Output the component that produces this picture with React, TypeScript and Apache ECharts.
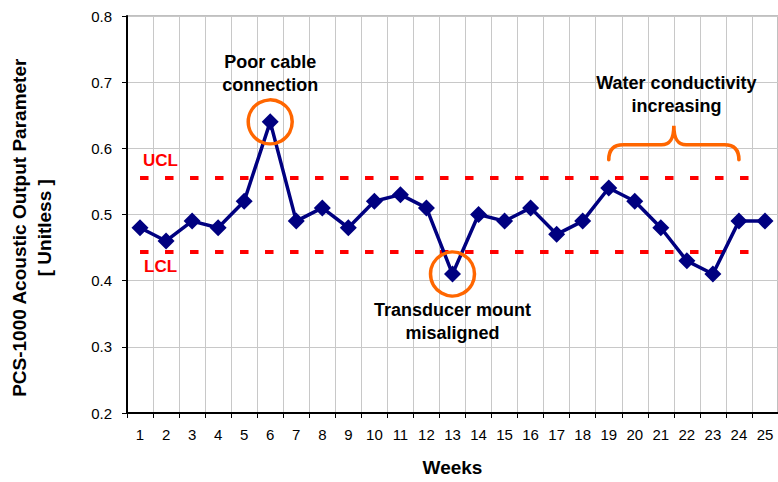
import React, { useEffect, useRef } from "react";
import * as echarts from "echarts";

const weeks = ["1","2","3","4","5","6","7","8","9","10","11","12","13","14","15","16","17","18","19","20","21","22","23","24","25"];
const values = [0.48,0.46,0.49,0.48,0.52,0.64,0.49,0.51,0.48,0.52,0.53,0.51,0.41,0.50,0.49,0.51,0.47,0.49,0.54,0.52,0.48,0.43,0.41,0.49,0.49];
const UCL = 0.555;
const LCL = 0.443;
const yMin = 0.2;
const yMax = 0.8;
const yStep = 0.1;

// annotations: [label text, category index (0-based, fractional ok), value]
const noteTexts = ["Poor cable\nconnection", "Transducer mount\nmisaligned", "Water conductivity\nincreasing"];
const noteX = [5, 12, 20.6];
const noteY = [0.713, 0.339, 0.6815];
const circledWeeks = [6, 13];
const braceFromWeek = 19;
const braceToWeek = 24;
const bracePeakValue = 0.634;

const FONT = 'Arial, "Liberation Sans", sans-serif';

const BRACE_D =
  "M -63 34 Q -63 19 -49 19 L -12 19 C -3 19 0 12 0 0 C 0 12 3 19 12 19 L 49 19 Q 63 19 63 34";

let registered = false;

export default function App() {
  const ref = useRef<HTMLDivElement>(null);
  useEffect(() => {
    if (!registered) {
      echarts.graphic.registerShape("brace", (echarts.graphic as any).extendPath(BRACE_D, {}));
      registered = true;
    }
    const chart = echarts.init(ref.current!, null, { renderer: "svg" });
    chart.setOption({
      animation: false,
      backgroundColor: "#ffffff",
      grid: {
        left: 127,
        top: 16,
        width: 653,
        height: 400,
        show: true,
        borderColor: "#808080",
        borderWidth: 1,
        backgroundColor: "transparent",
      },
      xAxis: {
        type: "category",
        data: weeks,
        boundaryGap: true,
        axisLine: { show: true, lineStyle: { color: "#000", width: 2 } },
        axisTick: { show: true, length: 5, interval: 0, lineStyle: { color: "#000", width: 1 } },
        axisLabel: { interval: 0, color: "#000", fontSize: 15, fontFamily: FONT, margin: 14 },
        splitLine: { show: true, interval: 0, lineStyle: { color: "#c8c8c8", width: 1 } },
        name: "Weeks",
        nameLocation: "middle",
        nameGap: 45,
        nameTextStyle: { color: "#000", fontSize: 19, fontWeight: "bold", fontFamily: FONT },
      },
      yAxis: {
        type: "value",
        min: yMin,
        max: yMax,
        interval: yStep,
        axisLine: { show: true, lineStyle: { color: "#000", width: 2 } },
        axisTick: { show: true, length: 5, lineStyle: { color: "#000", width: 1 } },
        axisLabel: {
          color: "#000",
          fontSize: 15,
          fontFamily: FONT,
          margin: 15,
          formatter: (v: number) => v.toFixed(1),
        },
        splitLine: { show: true, lineStyle: { color: "#c8c8c8", width: 1 } },
      },
      series: [
        {
          type: "line",
          data: values,
          symbol: "diamond",
          symbolSize: 17,
          itemStyle: { color: "#000080" },
          lineStyle: { color: "#000080", width: 3.5 },
          z: 5,
          markLine: {
            silent: true,
            symbol: "none",
            label: { show: false },
            lineStyle: { color: "#ff0000", width: 4, type: [8.5, 16.5] },
            data: [
              [{ coord: [0, UCL] }, { coord: [weeks.length - 1, UCL] }],
              [{ coord: [0, LCL] }, { coord: [weeks.length - 1, LCL] }],
            ],
          },
        },
      ],
    });

    const px = (xi: number, v: number): [number, number] => {
      const i0 = Math.floor(xi);
      const i1 = Math.min(i0 + 1, weeks.length - 1);
      const p0 = chart.convertToPixel({ xAxisIndex: 0, yAxisIndex: 0 }, [i0, v]) as number[];
      const p1 = chart.convertToPixel({ xAxisIndex: 0, yAxisIndex: 0 }, [i1 === i0 ? i0 : i1, v]) as number[];
      const f = xi - i0;
      const x = i1 === i0 ? p0[0] : p0[0] + (p1[0] - p0[0]) * f;
      return [x, p0[1]];
    };

    const graphics: any[] = [];
    // y-axis title (two lines, rotated)
    const yMid = px(0, (yMin + yMax) / 2 - 0.02)[1];
    graphics.push({
      type: "text",
      x: 19,
      y: yMid,
      rotation: Math.PI / 2,
      style: {
        text: "PCS-1000 Acoustic Output Parameter",
        fontSize: 19,
        fontWeight: "bold",
        fontFamily: FONT,
        fill: "#000",
        align: "center",
        verticalAlign: "middle",
      },
    });
    graphics.push({
      type: "text",
      x: 44,
      y: yMid,
      rotation: Math.PI / 2,
      style: {
        text: "[ Unitless ]",
        fontSize: 19,
        fontWeight: "bold",
        fontFamily: FONT,
        fill: "#000",
        align: "center",
        verticalAlign: "middle",
      },
    });
    // UCL / LCL labels
    const u = px(0, UCL + 0.027);
    const l = px(0, LCL - 0.021);
    graphics.push({
      type: "text",
      x: u[0] + 3,
      y: u[1],
      style: { text: "UCL", fontSize: 17, fontWeight: "bold", fontFamily: FONT, fill: "#ff0000", align: "left", verticalAlign: "middle" },
    });
    graphics.push({
      type: "text",
      x: l[0] + 4,
      y: l[1],
      style: { text: "LCL", fontSize: 17, fontWeight: "bold", fontFamily: FONT, fill: "#ff0000", align: "left", verticalAlign: "middle" },
    });
    // annotation texts
    noteTexts.forEach((t, k) => {
      const p = px(noteX[k], noteY[k]);
      graphics.push({
        type: "text",
        x: p[0],
        y: p[1],
        style: {
          text: t,
          fontSize: 18,
          fontWeight: "bold",
          fontFamily: FONT,
          fill: "#000",
          align: "center",
          verticalAlign: "middle",
          lineHeight: 23,
        },
        z: 10,
      });
    });
    // circles around outliers
    circledWeeks.forEach((w) => {
      const p = px(w - 1, values[w - 1]);
      graphics.push({
        type: "circle",
        shape: { cx: p[0], cy: p[1], r: 22 },
        style: { fill: "none", stroke: "#ff6600", lineWidth: 3.5 },
        z: 10,
      });
    });
    // brace
    const b0 = px(braceFromWeek - 1, bracePeakValue);
    const b1 = px(braceToWeek - 1, bracePeakValue);
    graphics.push({
      type: "brace",
      x: (b0[0] + b1[0]) / 2,
      y: b0[1],
      scaleX: (b1[0] - b0[0]) / 126,
      scaleY: 1,
      style: { fill: "none", stroke: "#ff6600", lineWidth: 3.5, lineCap: "round" },
      z: 10,
    });

    chart.setOption({ graphic: graphics });

    return () => chart.dispose();
  }, []);

  return (
    <div
      ref={ref}
      style={{ position: "absolute", left: 0, top: 0, width: 778, height: 482, background: "#fff" }}
    />
  );
}
